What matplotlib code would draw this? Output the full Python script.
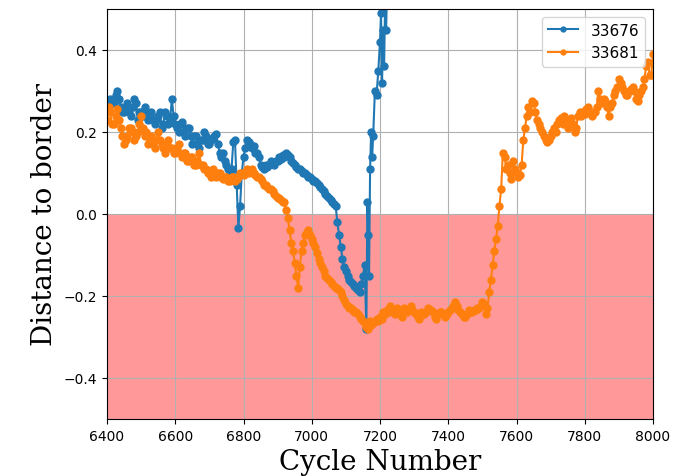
import numpy as np
import matplotlib
matplotlib.use("Agg")
import matplotlib.pyplot as plt

# ---- data ----
labels = ["33676", "33681"]

# series 33676, every 5 cycles from 6400 to 7155, then irregular tail
blue_main_y = [
    # 6400-6495
    0.26, 0.27, 0.28, 0.27, 0.27, 0.29, 0.30, 0.28, 0.26, 0.25,
    0.25, 0.26, 0.27, 0.25, 0.24, 0.26, 0.28, 0.27, 0.23, 0.25,
    # 6500-6595
    0.25, 0.24, 0.26, 0.25, 0.23, 0.24, 0.25, 0.23, 0.22, 0.23,
    0.24, 0.25, 0.21, 0.22, 0.25, 0.24, 0.22, 0.23, 0.28, 0.24,
    # 6600-6695
    0.22, 0.21, 0.20, 0.22, 0.225, 0.20, 0.19, 0.21, 0.21, 0.19,
    0.17, 0.19, 0.19, 0.17, 0.16, 0.18, 0.18, 0.20, 0.19, 0.17,
    # 6700-6795
    0.17, 0.18, 0.185, 0.19, 0.195, 0.17, 0.15, 0.14, 0.15, 0.13,
    0.12, 0.11, 0.10, 0.11, 0.175, 0.18, 0.07, -0.035, 0.02, 0.10,
    # 6800-6895
    0.14, 0.16, 0.18, 0.175, 0.17, 0.16, 0.165, 0.15, 0.15, 0.14,
    0.12, 0.115, 0.11, 0.12, 0.115, 0.12, 0.13, 0.125, 0.12, 0.13,
    # 6900-6995
    0.13, 0.14, 0.135, 0.145, 0.14, 0.15, 0.145, 0.14, 0.13, 0.125,
    0.12, 0.115, 0.11, 0.11, 0.105, 0.10, 0.10, 0.095, 0.09, 0.09,
    # 7000-7095
    0.085, 0.08, 0.08, 0.075, 0.07, 0.065, 0.06, 0.055, 0.05, 0.045,
    0.04, 0.035, 0.03, 0.025, 0.02, -0.02, -0.05, -0.08, -0.11, -0.13,
    # 7100-7155
    -0.14, -0.15, -0.16, -0.165, -0.17, -0.175, -0.18, -0.185, -0.19, -0.17,
    -0.15, -0.125,
]
blue_tail_x = [7160, 7163, 7166, 7168, 7171, 7174, 7177, 7180, 7185, 7190,
               7195, 7200, 7203, 7206, 7209, 7212, 7215, 7218, 7222]
blue_tail_y = [-0.28, 0.03, -0.05, -0.15, 0.11, 0.20, 0.14, 0.19, 0.30, 0.29,
               0.35, 0.42, 0.49, 0.32, 0.45, 0.36, 0.52, 0.45, 0.60]

# series 33681, every 5 cycles from 6400 to 8000
orange_y = [
    # 6400-6495
    0.23, 0.26, 0.25, 0.22, 0.22, 0.24, 0.255, 0.23, 0.21, 0.19,
    0.17, 0.18, 0.19, 0.21, 0.21, 0.20, 0.18, 0.19, 0.20, 0.22,
    # 6500-6595
    0.24, 0.21, 0.19, 0.20, 0.17, 0.18, 0.19, 0.17, 0.16, 0.18,
    0.20, 0.18, 0.17, 0.16, 0.15, 0.17, 0.18, 0.16, 0.16, 0.15,
    # 6600-6695
    0.15, 0.16, 0.17, 0.15, 0.14, 0.15, 0.15, 0.13, 0.13, 0.14,
    0.14, 0.12, 0.12, 0.13, 0.15, 0.12, 0.12, 0.11, 0.11, 0.10,
    # 6700-6795
    0.10, 0.09, 0.11, 0.10, 0.09, 0.10, 0.10, 0.09, 0.085, 0.09,
    0.09, 0.08, 0.08, 0.09, 0.09, 0.08, 0.085, 0.09, 0.10, 0.10,
    # 6800-6895
    0.095, 0.10, 0.11, 0.10, 0.105, 0.11, 0.10, 0.095, 0.09, 0.09,
    0.085, 0.08, 0.07, 0.07, 0.065, 0.06, 0.06, 0.055, 0.05, 0.045,
    # 6900-6995
    0.04, 0.04, 0.035, 0.03, 0.03, 0.01, -0.01, -0.04, -0.07, -0.09,
    -0.12, -0.15, -0.18, -0.13, -0.09, -0.07, -0.05, -0.045, -0.04, -0.05,
    # 7000-7095
    -0.06, -0.07, -0.08, -0.095, -0.11, -0.12, -0.13, -0.14, -0.15, -0.155,
    -0.16, -0.165, -0.17, -0.175, -0.18, -0.18, -0.185, -0.19, -0.20, -0.21,
    # 7100-7195
    -0.22, -0.225, -0.23, -0.23, -0.235, -0.24, -0.24, -0.245, -0.25, -0.255,
    -0.26, -0.265, -0.275, -0.28, -0.26, -0.27, -0.265, -0.26, -0.255, -0.26,
    # 7200-7295
    -0.25, -0.255, -0.24, -0.245, -0.235, -0.24, -0.225, -0.235, -0.24, -0.245,
    -0.23, -0.24, -0.245, -0.25, -0.23, -0.235, -0.24, -0.235, -0.225, -0.235,
    # 7300-7395
    -0.24, -0.245, -0.25, -0.255, -0.24, -0.245, -0.245, -0.24, -0.23, -0.235,
    -0.235, -0.24, -0.25, -0.255, -0.245, -0.24, -0.24, -0.245, -0.25, -0.245,
    # 7400-7495
    -0.24, -0.235, -0.23, -0.225, -0.215, -0.225, -0.235, -0.24, -0.245, -0.25,
    -0.25, -0.245, -0.235, -0.24, -0.24, -0.235, -0.235, -0.23, -0.23, -0.225,
    # 7500-7595
    -0.215, -0.22, -0.245, -0.23, -0.19, -0.16, -0.125, -0.09, -0.06, -0.03,
    0.02, 0.06, 0.15, 0.14, 0.11, 0.12, 0.10, 0.085, 0.13, 0.11,
    # 7600-7695
    0.10, 0.09, 0.095, 0.12, 0.18, 0.21, 0.24, 0.26, 0.25, 0.275,
    0.27, 0.25, 0.23, 0.22, 0.21, 0.20, 0.19, 0.18, 0.175, 0.18,
    # 7700-7795
    0.19, 0.20, 0.21, 0.20, 0.22, 0.23, 0.235, 0.22, 0.24, 0.23,
    0.21, 0.22, 0.235, 0.22, 0.20, 0.21, 0.24, 0.25, 0.24, 0.25,
    # 7800-7895
    0.245, 0.255, 0.26, 0.25, 0.24, 0.25, 0.25, 0.26, 0.30, 0.28,
    0.27, 0.28, 0.275, 0.26, 0.24, 0.26, 0.27, 0.29, 0.30, 0.31,
    # 7900-7995
    0.33, 0.32, 0.31, 0.30, 0.29, 0.29, 0.30, 0.305, 0.31, 0.30,
    0.28, 0.275, 0.29, 0.30, 0.31, 0.33, 0.36, 0.37, 0.34, 0.34,
    # 8000
    0.39,
]

blue_x = list(range(6400, 7156, 5)) + blue_tail_x
blue_y = blue_main_y + blue_tail_y
orange_x = list(range(6400, 8001, 5))
assert len(blue_x) == len(blue_y)
assert len(orange_x) == len(orange_y)

x_ticks = [6400, 6600, 6800, 7000, 7200, 7400, 7600, 7800, 8000]
y_ticks = [-0.4, -0.2, 0.0, 0.2, 0.4]

# ---- figure ----
fig = plt.figure(figsize=(6.93, 4.77), dpi=100)
ax = fig.add_axes([107 / 693, 1 - 420 / 477, (653 - 107) / 693, (420 - 10) / 477])

ax.axhspan(-0.5, 0.0, color="red", alpha=0.4, lw=0)
ax.plot(blue_x, blue_y, "o-", color="#1f77b4", markersize=5, lw=1.5, label=labels[0])
ax.plot(orange_x, orange_y, "o-", color="#ff7f0e", markersize=5, lw=1.5, label=labels[1])

ax.set_xlim(6400, 8000)
ax.set_ylim(-0.5, 0.5)
ax.set_xticks(x_ticks)
ax.set_yticks(y_ticks)
ax.grid(True)
ax.set_xlabel("Cycle Number", family="DejaVu Serif", fontsize=20)
ax.set_ylabel("Distance to border", family="DejaVu Serif", fontsize=20)
ax.legend(loc="upper right", fontsize=11, markerscale=0.7)

fig.savefig("out.png", dpi=100)
